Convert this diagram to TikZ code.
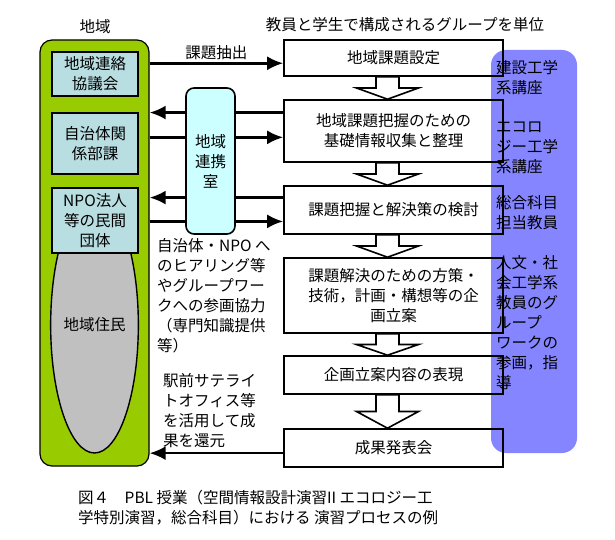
\documentclass[tikz,border=0pt]{standalone}
\usepackage{fontspec}
\setmainfont{Noto Sans CJK JP}
\usetikzlibrary{arrows.meta,calc,shapes.geometric}

\definecolor{regiongreen}{HTML}{99CC00}
\definecolor{unitblue}{HTML}{B9DEE2}
\definecolor{liaisoncyan}{HTML}{CCFFFF}
\definecolor{residentgray}{HTML}{C0C0C0}
\definecolor{staffblue}{HTML}{8585FF}

\tikzset{
  unitbox/.style={draw, line width=1.6pt, fill=unitblue, minimum width=86pt, align=center, inner sep=0pt},
  stagebox/.style={draw, line width=1.6pt, minimum width=219pt, align=center, inner sep=0pt},
  flow/.style={line width=2.6pt, -{Latex[length=16pt,width=14pt]}},
  hollow/.style={draw, line width=1.6pt, fill=white, line join=miter},
  memo/.style={align=left, inner sep=0pt}
}

\begin{document}
\begin{tikzpicture}[x=1pt,y=-1pt,font=\fontsize{15.5}{20}\selectfont]
	\useasboundingbox (0,0) rectangle (615,540);
	\path (94.5,253) node (region) [draw, line width=1.2pt, fill=regiongreen, rounded corners=12pt, minimum width=109pt, minimum height=426pt] {}
		  (95,27) node (regiontitle) {地域}
		  (94.5,325) node (residents) [ellipse, draw, line width=1.4pt, fill=residentgray, minimum width=85pt, minimum height=256pt, inner sep=0pt] {地域住民};
	\path (95,74) node (council) [unitbox, minimum height=44pt] {地域連絡\\協議会}
		  (95,143.5) node (office) [unitbox, minimum height=61pt] {自治体関\\係部課}
		  (95,220.5) node (npo) [unitbox, minimum height=65pt] {NPO法人\\等の民間\\団体};
	\path (534,251.5) node (staff) [fill=staffblue, rounded corners=15pt, minimum width=86pt, minimum height=403pt] {};
	\path (405,25) node (unitlabel) {教員と学生で構成されるグループを単位}
		  (393.5,58) node (t1) [stagebox, minimum height=36pt] {地域課題設定}
		  (393.5,131) node (t2) [stagebox, minimum height=62pt] {地域課題把握のための\\基礎情報収集と整理}
		  (393.5,210) node (t3) [stagebox, minimum height=48pt] {課題把握と解決策の検討}
		  (393.5,295.5) node (t4) [stagebox, minimum height=75pt] {課題解決のための方策・\\技術，計画・構想等の企\\画立案}
		  (393.5,375) node (t5) [stagebox, minimum height=38pt] {企画立案内容の表現}
		  (393.5,448) node (t6) [stagebox, minimum height=38pt] {成果発表会};
	\foreach \a/\b in {t1/t2,t2/t3,t3/t4,t4/t5,t5/t6}
		\draw[hollow] let \p1=(\a.south), \p2=(\b.north), \n1={(\y1+\y2)/2} in
			(\x1-17.5pt,\y1) -- (\x1-17.5pt,\n1) -- (\x1-37pt,\n1) -- (\x1-6pt,\y2)
			-- (\x1+25pt,\n1) -- (\x1+5.5pt,\n1) -- (\x1+5.5pt,\y1) -- cycle;
	\path ($(t1.north west)!0.64!(t1.south west)$) coordinate (p1)
		  ($(t2.north west)!0.21!(t2.south west)$) coordinate (p2)
		  ($(t2.north west)!0.6!(t2.south west)$) coordinate (p3)
		  ($(t3.north west)!0.25!(t3.south west)$) coordinate (p4)
		  ($(t3.north west)!0.73!(t3.south west)$) coordinate (p5)
		  ($(t6.north west)!0.63!(t6.south west)$) coordinate (p6);
	\draw[flow] (p1 -| region.east) -- node[above, inner sep=2pt] (extract) {課題抽出} (p1);
	\draw[flow] (p2) -- (p2 -| region.east);
	\draw[flow] (p3 -| region.east) -- (p3);
	\draw[flow] (p4) -- (p4 -| region.east);
	\draw[flow] (p5 -| region.east) -- (p5);
	\draw[flow] (p6) -- (p6 -| region.east);
	\path (210.5,161) node (liaison) [draw, line width=1.6pt, fill=liaisoncyan, rounded corners=8pt, minimum width=49pt, minimum height=146pt, align=center] {地域\\連携\\室};
	\path (157,296) node (hearing) [memo, anchor=west] {自治体・NPO へ\\のヒアリング等\\やグループワー\\クへの参画協力\\（専門知識提供\\等）}
		  (163,411) node (station) [memo, anchor=west] {駅前サテライ\\トオフィス等\\を活用して成\\果を還元};
	\path (496,78) node (civil) [memo, anchor=west] {建設工学\\系講座}
		  (496,148) node (ecology) [memo, anchor=west] {エコロ\\ジー工学\\系講座}
		  (496,213) node (general) [memo, anchor=west] {総合科目\\担当教員}
		  (496,323) node (humanities) [memo, anchor=west] {人文・社\\会工学系\\教員のグ\\ループ\\ワークの\\参画，指\\導};
	\path (78,507.5) node (caption) [memo, anchor=west] {図４　PBL 授業（空間情報設計演習II エコロジー工\\学特別演習，総合科目）における 演習プロセスの例};
\end{tikzpicture}
\end{document}
